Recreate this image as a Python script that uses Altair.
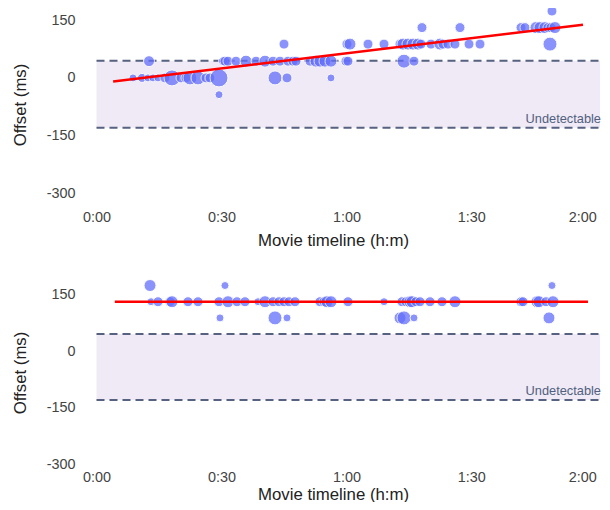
import altair as alt
import pandas as pd

# ---------------- data ----------------
# offsets in ms, times in minutes of the movie timeline, w = bubble weight (marker radius)
F1, F2, F3, F4 = 43.6, 88.0, 131.0, 174.0

top_t = [8.76, 10.92, 12.36, 13.57, 14.77, 16.45, 18.13, 20.29, 21.49, 22.45, 24.37, 26.29, 27.25, 29.41, 42.86, 45.74, 56.30,
         29.41,
         12.61, 30.37, 30.85, 31.57, 33.49, 35.89, 38.30, 40.46, 42.38, 44.06, 45.98, 47.18, 47.90, 51.26, 52.70, 53.66, 54.86, 56.30, 59.90, 60.38, 73.83, 76.23,
         45.02, 60.14, 60.86, 65.19, 69.03, 72.87, 73.59, 74.79, 75.99, 77.19, 77.91, 80.31, 82.47, 83.19, 84.39, 86.07, 89.44, 92.08, 108.88,
         78.15, 87.27, 101.92, 102.88, 105.52, 106.48, 107.68, 108.40, 109.12, 110.08,
         109.36]
top_off = [0.0] * 17 + [-F1] + [F1] * 22 + [F2] * 19 + [F3] * 10 + [F4]
top_w = [4, 4.5, 4, 4, 4, 5, 8, 5, 5, 7, 7, 5, 5, 9, 7, 5, 4,
         4,
         5.5, 4.5, 5, 5, 5, 6, 5, 6, 5, 5, 5, 5, 5, 5, 6, 6, 6, 6, 5, 5, 7, 5,
         5, 5, 6, 5, 5, 5, 6, 6, 6, 6, 5, 5, 6, 5, 5, 5, 5, 5, 7,
         5, 5, 5, 5, 6, 6, 6, 5, 5, 6,
         5]

bot_t = [12.85, 30.85, 109.36,
         13.09, 14.77, 17.65, 18.13, 21.97, 24.37, 29.41, 31.57, 33.73, 35.65, 38.78, 40.46, 42.38, 43.82, 45.02, 46.22, 47.66,
         53.66, 54.62, 55.34, 56.30, 60.38, 69.03, 73.35, 74.31, 75.27, 75.75, 76.71, 77.67, 80.07, 82.95, 86.07,
         101.92, 102.40, 105.76, 106.24, 107.92, 109.60,
         29.65, 42.86, 45.74, 72.87, 73.83, 76.23, 108.64]
bot_off = [F4] * 3 + [F3] * 38 + [F2] * 7
bot_w = [6, 4, 4,
         4, 5, 5, 6, 5, 5, 5, 6, 5, 5, 4, 6, 5, 5, 5, 5, 5,
         5, 5, 6, 6, 5, 4, 5, 5, 6, 6, 5, 5, 5, 5, 6,
         5, 5, 6, 6, 5, 6,
         4, 7, 4, 6, 7, 4, 6]

# fitted trend lines (start / end)
top_fit_t = [4.0, 116.8]
top_fit_off = [-9.5, 138.5]
bot_fit_t = [4.4, 118.0]
bot_fit_off = [131.0, 131.0]

# detectability thresholds (ms)
UPPER, LOWER = 45, -130
X_MIN, X_MAX = -4.44, 120.89

tick_t = [0, 30, 60, 90, 120]
tick_off = [-300, -150, 0, 150]

GRID = "#EBF0F8"
FONT = "Liberation Sans"
one = pd.DataFrame({"k": [0]})


def panel(t, off, w, fit_t, fit_off, ydom, height, xlabpad, xtitlepad):
    pts = pd.DataFrame({"t": t, "off": off, "w": w})
    fit = pd.DataFrame({"t": fit_t, "off": fit_off})

    xaxis = alt.Axis(values=tick_t, title="Movie timeline (h:m)",
                     labelExpr="floor(datum.value/60) + ':' + (datum.value % 60 < 10 ? '0' : '') + (datum.value % 60)",
                     labelFlush=6, labelPadding=xlabpad, titlePadding=xtitlepad,
                     titleX=255, titleAlign="center", titleAnchor="start")
    yaxis = alt.Axis(values=tick_off, title="Offset (ms)", labelExpr="'' + datum.value",
                     labelPadding=3, titlePadding=17,
                     gridWidth={"condition": {"test": "datum.value === 0", "value": 2}, "value": 1})
    xs = alt.Scale(domain=[X_MIN, X_MAX], nice=False, zero=False)
    ys = alt.Scale(domain=ydom, nice=False, zero=False)

    band = alt.Chart(one).mark_rect(color="#663399", opacity=0.1).encode(
        x=alt.X(datum=0, scale=xs, axis=xaxis), x2=alt.X2(datum=X_MAX),
        y=alt.Y(datum=LOWER, scale=ys, axis=yaxis), y2=alt.Y2(datum=UPPER))
    rules = [alt.Chart(one).mark_rule(color="#56627f", strokeWidth=2, strokeDash=[8, 5]).encode(
        x=alt.X(datum=0, scale=xs, axis=xaxis), x2=alt.X2(datum=X_MAX),
        y=alt.Y(datum=v, scale=ys, axis=yaxis)) for v in (UPPER, LOWER)]
    dots = alt.Chart(pts).mark_circle(color="#636efa", opacity=0.75, stroke="white",
                                      strokeWidth=1).encode(
        x=alt.X("t:Q", scale=xs, axis=xaxis),
        y=alt.Y("off:Q", scale=ys, axis=yaxis),
        size=alt.Size("w:Q", scale=alt.Scale(type="pow", exponent=2, domain=[0, 10], range=[0, 400]),
                      legend=None))
    line = alt.Chart(fit).mark_line(color="red", strokeWidth=2.4).encode(
        x=alt.X("t:Q", scale=xs, axis=xaxis), y=alt.Y("off:Q", scale=ys, axis=yaxis))
    label = alt.Chart(one).mark_text(text="Undetectable", align="right", baseline="alphabetic",
                                     dx=1, dy=-5, font=FONT, fontSize=12.8, color="#51607f").encode(
        x=alt.X(datum=X_MAX, scale=xs, axis=xaxis), y=alt.Y(datum=LOWER, scale=ys, axis=yaxis))
    return alt.layer(band, *rules, dots, line, label).properties(width=522, height=height)


top = panel(top_t, top_off, top_w, top_fit_t, top_fit_off, [-323, 184.6], 195, 8, 8.6)
bottom = panel(bot_t, bot_off, bot_w, bot_fit_t, bot_fit_off, [-300, 186], 183, 6, 2.6)

chart = alt.vconcat(top, bottom, spacing=79, bounds="flush").properties(
    padding={"left": 4, "top": -4, "right": 0, "bottom": -1}
).configure_view(stroke=None).configure_axis(
    domain=False, ticks=False, tickSize=0, gridColor=GRID,
    labelFont=FONT, labelFontSize=14.4, labelColor="#444",
    titleFont=FONT, titleFontSize=16.8, titleFontWeight="normal", titleColor="#222"
)

chart.save("out.html", embed_options={"renderer": "svg", "actions": False})
